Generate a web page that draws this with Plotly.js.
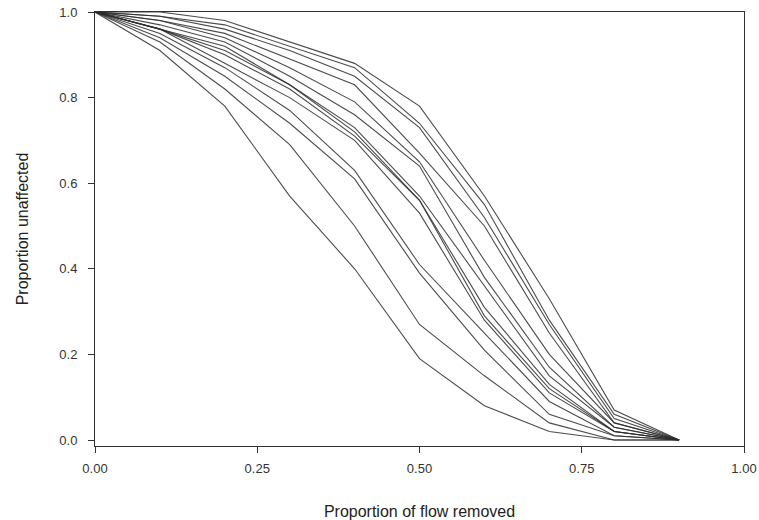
<!DOCTYPE html>
<html>
<head>
<meta charset="utf-8">
<script src="https://cdn.plot.ly/plotly-3.0.1.min.js"></script>
<style>html,body{margin:0;padding:0;background:#fff;}#chart{width:759px;height:520px;}</style>
</head>
<body>
<div id="chart"></div>
<script>
var flowRemoved = [0, 0.1, 0.2, 0.3, 0.4, 0.5, 0.6, 0.7, 0.8, 0.9];

var line01 = [1.0, 1.00, 0.98, 0.93, 0.88, 0.78, 0.57, 0.33, 0.07, 0.0];
var line02 = [1.0, 0.99, 0.97, 0.92, 0.87, 0.74, 0.55, 0.28, 0.06, 0.0];
var line03 = [1.0, 0.99, 0.96, 0.91, 0.85, 0.73, 0.52, 0.27, 0.05, 0.0];
var line04 = [1.0, 0.98, 0.95, 0.89, 0.83, 0.67, 0.50, 0.25, 0.04, 0.0];
var line05 = [1.0, 0.98, 0.94, 0.87, 0.79, 0.65, 0.42, 0.20, 0.04, 0.0];
var line06 = [1.0, 0.97, 0.93, 0.85, 0.76, 0.64, 0.38, 0.17, 0.03, 0.0];
var line07 = [1.0, 0.96, 0.92, 0.83, 0.73, 0.57, 0.36, 0.15, 0.03, 0.0];
var line08 = [1.0, 0.96, 0.91, 0.83, 0.72, 0.56, 0.31, 0.13, 0.02, 0.0];
var line09 = [1.0, 0.96, 0.90, 0.82, 0.71, 0.56, 0.29, 0.12, 0.02, 0.0];
var line10 = [1.0, 0.96, 0.88, 0.80, 0.70, 0.53, 0.28, 0.11, 0.02, 0.0];
var line11 = [1.0, 0.95, 0.87, 0.77, 0.63, 0.41, 0.25, 0.09, 0.01, 0.0];
var line12 = [1.0, 0.94, 0.85, 0.74, 0.61, 0.39, 0.21, 0.06, 0.01, 0.0];
var line13 = [1.0, 0.93, 0.82, 0.69, 0.50, 0.27, 0.15, 0.04, 0.00, 0.0];
var line14 = [1.0, 0.91, 0.78, 0.57, 0.40, 0.19, 0.08, 0.02, 0.00, 0.0];

var xTickVals = [0, 0.25, 0.5, 0.75, 1.0];
var xTickText = ["0.00", "0.25", "0.50", "0.75", "1.00"];
var yTickVals = [0, 0.2, 0.4, 0.6, 0.8, 1.0];
var yTickText = ["0.0", "0.2", "0.4", "0.6", "0.8", "1.0"];

var allLines = [line01, line02, line03, line04, line05, line06, line07,
                line08, line09, line10, line11, line12, line13, line14];

var traces = allLines.map(function (ys) {
  return {
    x: flowRemoved,
    y: ys,
    type: 'scatter',
    mode: 'lines',
    line: {color: 'rgba(45,45,45,0.85)', width: 1.1},
    hoverinfo: 'skip',
    showlegend: false
  };
});

var layout = {
  width: 759,
  height: 520,
  margin: {l: 95, r: 15, t: 12, b: 74},
  paper_bgcolor: '#fff',
  plot_bgcolor: '#fff',
  font: {family: 'Liberation Sans, Arial, sans-serif', size: 13, color: '#333'},
  showlegend: false,
  xaxis: {
    range: [0, 1.0],
    tickvals: xTickVals,
    ticktext: xTickText,
    ticks: 'outside',
    ticklen: 6,
    tickcolor: '#333',
    ticklabelstandoff: 4,
    showline: true,
    linecolor: '#333',
    linewidth: 1,
    mirror: true,
    showgrid: false,
    zeroline: false,
    tickfont: {size: 13, color: '#333'},
    title: {text: 'Proportion of flow removed', font: {size: 16, color: '#222'}, standoff: 32}
  },
  yaxis: {
    range: [-0.014, 1.0],
    tickvals: yTickVals,
    ticktext: yTickText,
    ticks: 'outside',
    ticklen: 6,
    tickcolor: '#333',
    ticklabelstandoff: 8,
    showline: true,
    linecolor: '#333',
    linewidth: 1,
    mirror: true,
    showgrid: false,
    zeroline: false,
    tickfont: {size: 13, color: '#333'},
    title: {text: 'Proportion unaffected', font: {size: 16, color: '#222'}, standoff: 26}
  }
};

Plotly.newPlot('chart', traces, layout, {displayModeBar: false, staticPlot: true});
</script>
</body>
</html>
